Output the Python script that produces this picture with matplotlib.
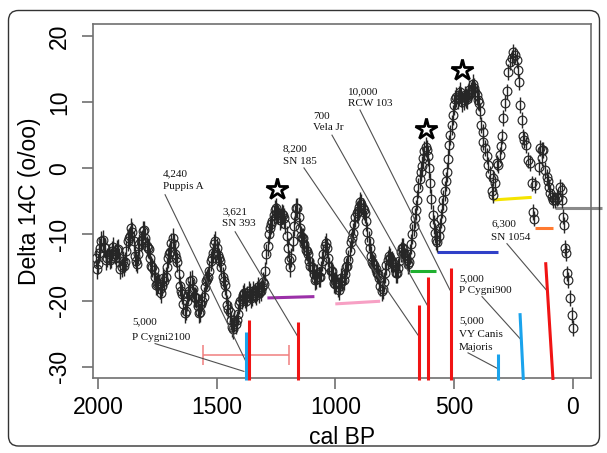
import matplotlib
matplotlib.use("Agg")
import matplotlib.pyplot as plt
from matplotlib.patches import FancyBboxPatch

# ---------------- data ----------------
left_years = [2010, 2000, 1990, 1980, 1970, 1960, 1950, 1940, 1930, 1920, 1910, 1900, 1890, 1880, 1870,
              1860, 1850, 1840, 1830, 1820, 1810, 1800, 1790, 1780, 1770, 1760, 1750, 1740, 1730, 1720,
              1710, 1700, 1690, 1680, 1670, 1660, 1650, 1640, 1630, 1620, 1610, 1600, 1590, 1580, 1570,
              1560, 1550, 1540, 1530, 1520, 1510, 1500, 1490, 1480, 1470, 1460, 1450, 1440, 1430, 1420,
              1410, 1400, 1390, 1380, 1370, 1360, 1350, 1340, 1330, 1320, 1310, 1300, 1290, 1280, 1270,
              1260, 1250, 1240, 1230, 1220, 1210, 1200, 1190, 1180, 1170, 1160, 1150, 1140, 1130, 1120,
              1110, 1100, 1090, 1080, 1070, 1060, 1050, 1040, 1030, 1020, 1010, 1000, 990, 980, 970,
              960, 950, 940, 930, 920, 910, 900, 890, 880, 870, 860, 850, 840, 830, 820,
              810, 800, 790, 780, 770, 760, 750, 740, 730, 720, 710, 700, 690, 680, 670,
              660, 650, 640, 630, 620, 610, 600, 590, 580, 570, 560, 550, 540, 530, 520,
              510, 500, 490, 480, 470, 460, 450, 440, 430, 420, 410, 400]
left_d14c = [-13.5, -14.5, -12.0, -10.8, -12.0, -13.5, -13.8, -12.5, -13.0, -12.3, -13.5, -15.0, -14.8, -12.5, -10.5,
             -9.0, -11.0, -14.0, -13.0, -11.0, -9.5, -10.5, -12.0, -13.5, -15.0, -16.5, -17.5, -18.3, -17.8, -17.0,
             -15.0, -13.0, -11.3, -11.5, -13.5, -16.0, -18.5, -20.5, -21.5, -19.0, -17.0, -18.3, -19.5, -20.8, -21.8,
             -20.0, -18.0, -16.8, -15.5, -13.5, -11.5, -12.0, -13.5, -15.0, -17.0, -19.0, -21.2, -23.0, -24.3, -23.5,
             -22.0, -20.0, -19.2, -19.6, -19.3, -18.8, -19.3, -18.8, -18.5, -18.9, -18.0, -17.5, -13.0, -10.0, -8.5,
             -7.0, -6.0, -7.0, -7.5, -7.0, -8.5, -12.0, -15.0, -11.0, -7.0, -6.0, -9.0, -10.5, -11.5, -12.5,
             -14.0, -15.0, -16.0, -16.8, -16.5, -15.5, -13.0, -11.3, -13.5, -15.5, -16.5, -17.5, -18.0, -17.5, -17.0,
             -16.0, -14.7, -12.5, -10.6, -8.5, -6.8, -5.8, -5.4, -6.3, -8.0, -11.0, -13.3, -14.5, -15.2, -16.0,
             -17.8, -18.3, -15.8, -13.8, -13.5, -14.0, -15.0, -15.8, -14.0, -12.0, -12.8, -13.8, -14.2, -11.5, -8.8,
             -6.3, -3.0, -0.5, 1.5, 3.2, 1.8, -2.2, -7.0, -9.8, -11.2, -9.0, -6.0, -3.5, -0.6, 3.5,
             6.5, 9.5, 10.8, 11.0, 10.8, 10.3, 10.6, 11.2, 11.5, 12.8, 11.5, 10.3]

mid_years = [2005, 1995, 1985, 1975, 1965, 1955, 1945, 1935, 1925, 1915, 1905, 1895, 1885, 1875, 1865,
             1855, 1845, 1835, 1825, 1815, 1805, 1795, 1785, 1775, 1765, 1755, 1745, 1735, 1725, 1715,
             1705, 1695, 1685, 1675, 1665, 1655, 1645, 1635, 1625, 1615, 1605, 1595, 1585, 1575, 1565,
             1555, 1545, 1535, 1525, 1515, 1505, 1495, 1485, 1475, 1465, 1455, 1445, 1435, 1425, 1415,
             1405, 1395, 1385, 1375, 1365, 1355, 1345, 1335, 1325, 1315, 1305, 1295, 1285, 1275, 1265,
             1255, 1245, 1235, 1225, 1215, 1205, 1195, 1185, 1175, 1165, 1155, 1145, 1135, 1125, 1115,
             1105, 1095, 1085, 1075, 1065, 1055, 1045, 1035, 1025, 1015, 1005, 995, 985, 975, 965,
             955, 945, 935, 925, 915, 905, 895, 885, 875, 865, 855, 845, 835, 825, 815,
             805, 795, 785, 775, 765, 755, 745, 735, 725, 715, 705, 695, 685, 675, 665,
             655, 645, 635, 625, 615, 605, 595, 585, 575, 565, 555, 545, 535, 525, 515,
             505, 495, 485, 475, 465, 455, 445, 435, 425, 415, 405]
mid_d14c = [-15.2, -12.8, -11.0, -11.9, -13.9, -12.9, -13.6, -11.9, -13.4, -12.2, -15.3, -14.0, -14.2, -11.0, -10.3,
            -9.6, -13.2, -14.4, -11.5, -10.8, -9.4, -11.8, -12.2, -14.8, -15.4, -17.6, -17.3, -18.8, -16.6, -16.4,
            -13.6, -12.6, -10.6, -12.9, -14.2, -17.8, -19.0, -21.9, -20.0, -18.5, -16.9, -19.4, -19.6, -21.9, -20.5,
            -19.4, -17.0, -16.5, -14.0, -12.8, -11.0, -13.1, -14.0, -16.5, -17.6, -20.6, -21.7, -24.0, -23.3, -23.0,
            -20.5, -19.8, -18.8, -20.0, -18.6, -19.6, -18.5, -19.2, -18.0, -18.6, -17.2, -15.6, -11.8, -9.0, -7.9,
            -6.3, -6.8, -7.8, -6.9, -7.5, -10.3, -13.8, -13.5, -8.8, -6.0, -7.4, -10.2, -10.6, -12.4, -13.0,
            -14.8, -15.2, -16.9, -16.0, -16.4, -14.0, -11.7, -12.0, -14.9, -15.6, -17.4, -17.2, -18.4, -16.6, -16.9,
            -15.0, -13.9, -11.2, -9.8, -7.4, -6.5, -5.1, -6.0, -6.8, -9.6, -12.0, -14.2, -14.6, -15.9, -16.6,
            -18.6, -17.2, -14.6, -13.2, -14.2, -14.3, -15.9, -15.1, -12.7, -12.0, -13.6, -14.5, -12.9, -10.0, -7.5,
            -4.8, -1.6, 0.4, 2.6, 2.8, 0.0, -4.6, -8.5, -10.8, -10.2, -7.6, -4.8, -2.0, 1.4, 5.0,
            8.0, 10.4, 10.4, 11.5, 10.0, 11.0, 10.4, 11.8, 12.0, 12.2, 11.0]

right_years = [395, 390, 385, 380, 376, 369, 362, 355, 348, 341, 336, 334, 327, 320, 313, 306, 304, 299,
               292, 285, 278, 271, 264, 257, 250, 243, 236, 229, 226, 222, 215, 210, 204, 197, 187, 180,
               173, 166, 162, 159, 141, 138, 131, 128, 124, 116, 110, 103, 100, 96, 88, 82, 75, 67,
               60, 53, 46, 44, 40, 35, 32, 28, 25, 19, 11, 4, 0]
right_d14c = [9.8, 8.6, 6.5, 5.5, 4.0, 3.0, 1.8, 0.5, -0.8, -3.5, -4.0, -1.5, -2.3, 0.8, 0.5, 2.0, 3.3, 4.8,
              7.6, 9.8, 11.6, 14.6, 16.1, 16.6, 17.6, 17.1, 16.4, 14.8, 13.1, 9.6, 7.3, 4.8, 4.3, 3.5, 1.3, 0.8,
              -2.3, -6.6, -7.6, -2.5, 0.2, 3.0, 2.8, 1.5, 2.8, -0.3, -1.3, -2.0, -2.8, -3.8, -4.3, -4.8, -4.8, -4.5,
              -4.3, -2.8, -3.3, -4.8, -7.3, -8.6, -12.1, -12.8, -15.9, -16.9, -19.6, -22.2, -24.2]
dense_err = 1.5
sparse_err = 1.2

# vertical supernova markers: bottom x, top x, top y, colour
vlines_x_bottom = [1376, 1363, 1157, 647, 611, 514, 315, 208, 83]
vlines_x_top = [1376, 1363, 1157, 647, 611, 514, 315, 222, 114]
vlines_top = [-24.7, -22.9, -23.2, -20.6, -16.5, -15.1, -28.1, -21.9, -14.2]
vlines_color = ["#1aa3ec", "#f01414", "#f01414", "#f01414", "#f01414", "#f01414",
                "#1aa3ec", "#1aa3ec", "#f01414"]

# horizontal coloured segments
hseg_x0 = [1286, 1000, 685, 573, 337, 159, 75]
hseg_x1 = [1088, 811, 576, 315, 173, 84, -123]
hseg_y0 = [-19.6, -20.5, -15.5, -12.7, -4.8, -9.1, -6.0]
hseg_y1 = [-19.4, -20.1, -15.5, -12.7, -4.4, -9.1, -6.0]
hseg_color = ["#9b30a8", "#f7a0c4", "#20b030", "#3040c8", "#f5e400", "#ff7a30", "#8a8a8a"]

# P Cygni 2100 range bar
pcyg_x, pcyg_y, pcyg_xerr = 1376, -28.2, 181

# stars
star_x = [1246, 618, 468]
star_y = [-3.1, 6.0, 14.8]

# labels (lines, left x, y of each line)
label_lines = [["4,240", "Puppis A"], ["3,621", "SN 393"], ["8,200", "SN 185"],
               ["700", "Vela Jr"], ["10,000", "RCW 103"], ["5,000", "P Cygni2100"],
               ["5,000", "P Cygni900"], ["5,000", "VY Canis", "Majoris"], ["6,300", "SN 1054"]]
label_x = [1726, 1477, 1220, 1094, 946, 1856, 479, 479, 344]
label_y = [[-0.9, -2.7], [-6.6, -8.3], [2.9, 0.95], [7.75, 6.1], [11.5, 9.86], [-23.2, -25.6],
           [-16.7, -18.5], [-23.1, -25.2, -27.1], [-8.4, -10.4]]
# leader lines
lead_x0 = [1717, 1759, 1422, 1132, 1014, 896, 382, 441, 277]
lead_y0 = [-4.0, -26.5, -9.6, 0.05, 5.0, 8.8, -19.4, -27.9, -11.4]
lead_x1 = [1363, 1385, 1157, 652, 611, 517, 218, 315, 104]
lead_y1 = [-30.2, -30.7, -25.5, -25.2, -20.8, -18.4, -25.9, -30.3, -18.7]

xticks = [2000, 1500, 1000, 500, 0]
yticks = [-30, -20, -10, 0, 10, 20]

# ---------------- figure ----------------
sans = "Liberation Sans"
serif = "Liberation Serif"
fig = plt.figure(figsize=(6.07, 4.53), dpi=100)
ax = fig.add_axes([93 / 607, 1 - 378 / 453, (591 - 93) / 607, (378 - 24) / 453])
ax.set_xlim(2020.6, -77)
ax.set_ylim(-31.7, 21.8)

# outer rounded frame
frame = FancyBboxPatch((0.085, 0.07), 5.91, 4.355, boxstyle="round,pad=0,rounding_size=0.1",
                       transform=fig.dpi_scale_trans, fill=False, edgecolor="#333333", lw=1.0,
                       clip_on=False)
fig.patches.append(frame)

# coloured horizontal segments
for x0, x1, y0, y1, c in zip(hseg_x0, hseg_x1, hseg_y0, hseg_y1, hseg_color):
    ax.plot([x0, x1], [y0, y1], color=c, lw=2.2, solid_capstyle="butt", clip_on=False, zorder=2)

# P Cygni range
ax.errorbar([pcyg_x], [pcyg_y], xerr=[pcyg_xerr], fmt="none", ecolor="#f07f7f", elinewidth=1.3,
            capsize=7, capthick=1.3, alpha=0.85, zorder=2)

# data
pt_style = dict(fmt="o", mfc="none", mec="#262626", ms=6.3, mew=0.85, ecolor="#262626",
                elinewidth=1.0, zorder=3)
ax.errorbar(left_years, left_d14c, yerr=dense_err, **pt_style)
ax.errorbar(mid_years, mid_d14c, yerr=dense_err, **pt_style)
ax.errorbar(right_years, right_d14c, yerr=sparse_err, **pt_style)

# leader lines
for x0, y0, x1, y1 in zip(lead_x0, lead_y0, lead_x1, lead_y1):
    ax.plot([x0, x1], [y0, y1], color="#505050", lw=0.8, zorder=4)

# vertical markers
ybot = ax.get_ylim()[0]
for xb, xt, yt, c in zip(vlines_x_bottom, vlines_x_top, vlines_top, vlines_color):
    ax.plot([xb, xt], [ybot - 0.3, yt], color=c, lw=2.2, solid_capstyle="butt", clip_on=False, zorder=5)

# stars
ax.plot(star_x, star_y, linestyle="none", marker="*", ms=16, mfc="white", mec="black", mew=2.0, zorder=6)

# labels
for lines, lx, ly in zip(label_lines, label_x, label_y):
    for t, yy in zip(lines, ly):
        ax.text(lx, yy, t, ha="left", va="center", fontsize=8, family=serif, color="#111111", zorder=7)

# axes styling (R-like)
for s in ax.spines.values():
    s.set_color("#707070")
    s.set_linewidth(1.2)
ax.set_xticks(xticks)
ax.set_yticks(yticks)
ax.set_xticklabels([str(v) for v in xticks], fontsize=16.5, family=sans)
ax.set_yticklabels([str(v) for v in yticks], fontsize=16.5, family=sans, rotation=90, va="center")
ax.tick_params(axis="both", direction="out", color="#707070", width=1.2, length=8)
ax.tick_params(axis="x", pad=5)
ax.tick_params(axis="y", pad=8)

fig.text(342 / 607, 1 - 438 / 453, "cal BP", ha="center", va="center", fontsize=16.5, family=sans)
fig.text(30 / 607, 1 - 201 / 453, "Delta 14C (o/oo)", ha="center", va="center", rotation=90,
         fontsize=16.5, family=sans)

fig.savefig("out.png", dpi=100)
